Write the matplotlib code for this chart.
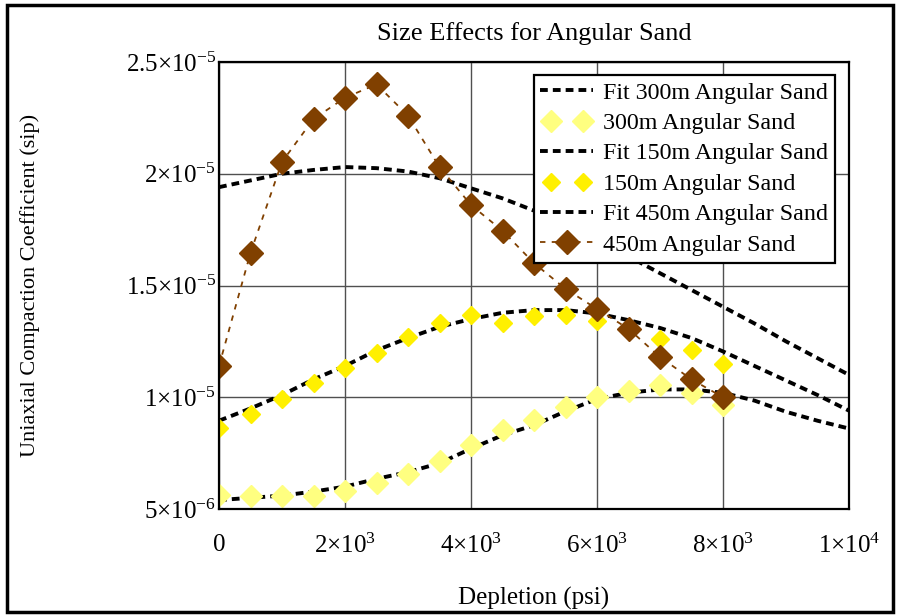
import matplotlib
matplotlib.use("Agg")
import matplotlib.pyplot as plt
from matplotlib.legend_handler import HandlerLine2D
from matplotlib.patches import Rectangle

# -------------------------- fonts (Times-like, Mathcad look) --------------------------
plt.rcParams['font.family'] = 'serif'
plt.rcParams['font.serif'] = ['Liberation Serif', 'DejaVu Serif']
plt.rcParams['mathtext.fontset'] = 'custom'
plt.rcParams['mathtext.rm'] = 'Liberation Serif'
plt.rcParams['mathtext.it'] = 'Liberation Serif:italic'
plt.rcParams['mathtext.default'] = 'rm'

# -------------------------- measured data (depletion in psi) --------------------------
depletion = [0, 500, 1000, 1500, 2000, 2500, 3000, 3500, 4000,
             4500, 5000, 5500, 6000, 6500, 7000, 7500, 8000]

sand_300 = [0.563, 0.558, 0.558, 0.558, 0.580, 0.615, 0.655, 0.716, 0.786,
            0.854, 0.898, 0.958, 1.000, 1.028, 1.055, 1.018, 0.966]
sand_150 = [0.861, 0.924, 0.992, 1.063, 1.130, 1.200, 1.270, 1.330, 1.370,
            1.330, 1.364, 1.368, 1.340, 1.300, 1.261, 1.210, 1.149]
sand_450 = [1.140, 1.646, 2.053, 2.245, 2.340, 2.400, 2.260, 2.030, 1.860,
            1.745, 1.600, 1.485, 1.395, 1.306, 1.180, 1.080, 1.000]

# fitted curves, sampled every 500 psi over the full range
fit_depletion = [0, 500, 1000, 1500, 2000, 2500, 3000, 3500, 4000, 4500, 5000,
                 5500, 6000, 6500, 7000, 7500, 8000, 8500, 9000, 9500, 10000]
fit_300 = [0.540, 0.550, 0.560, 0.578, 0.600, 0.635, 0.665, 0.705, 0.770, 0.830, 0.875,
           0.937, 0.992, 1.020, 1.035, 1.035, 1.020, 0.985, 0.935, 0.895, 0.860]
fit_150 = [0.895, 0.950, 1.010, 1.080, 1.140, 1.210, 1.265, 1.315, 1.350, 1.378, 1.390,
           1.390, 1.375, 1.345, 1.310, 1.265, 1.205, 1.140, 1.075, 1.010, 0.940]
fit_450 = [1.940, 1.970, 2.000, 2.017, 2.030, 2.025, 2.010, 1.980, 1.935, 1.890, 1.835,
           1.770, 1.700, 1.630, 1.555, 1.480, 1.405, 1.330, 1.250, 1.175, 1.100]

scale = 1e-5  # values above are in units of 1e-5 1/psi

xticks = [0, 2000, 4000, 6000, 8000, 10000]
xtick_labels = ['0', r'$2{\times}10^{3}$', r'$4{\times}10^{3}$', r'$6{\times}10^{3}$',
                r'$8{\times}10^{3}$', r'$1{\times}10^{4}$']
yticks = [0.5, 1.0, 1.5, 2.0, 2.5]
ytick_labels = [r'$5{\times}10^{-6}$', r'$1{\times}10^{-5}$', r'$1.5{\times}10^{-5}$',
                r'$2{\times}10^{-5}$', r'$2.5{\times}10^{-5}$']

light_yellow = '#FFFF80'
yellow = '#FFF000'
brown = '#804000'

# -------------------------- figure --------------------------
fig = plt.figure(figsize=(9, 6.16), dpi=100)
ax = fig.add_axes([219 / 900, 107 / 616, 630 / 900, 447 / 616])

fit_style = dict(color='black', lw=2.8, dashes=(2, 1.3), solid_capstyle='butt')

def scaled(vals):
    return [v * scale for v in vals]

l_fit300, = ax.plot(fit_depletion, scaled(fit_300), label='Fit 300m Angular Sand', **fit_style)
l_300, = ax.plot(depletion, scaled(sand_300), ls='none', marker='D', ms=11,
                 mfc=light_yellow, mec=light_yellow, label='300m Angular Sand')
l_fit150, = ax.plot(fit_depletion, scaled(fit_150), label='Fit 150m Angular Sand', **fit_style)
l_150, = ax.plot(depletion, scaled(sand_150), ls='none', marker='D', ms=9,
                 mfc=yellow, mec=yellow, label='150m Angular Sand')
l_fit450, = ax.plot(fit_depletion, scaled(fit_450), label='Fit 450m Angular Sand', **fit_style)
l_450, = ax.plot(depletion, scaled(sand_450), color=brown, lw=1.3, dashes=(3, 3.5),
                 marker='D', ms=12.5, mfc=brown, mec=brown, label='450m Angular Sand')

ax.set_xlim(0, 10000)
ax.set_ylim(0.5 * scale, 2.5 * scale)
ax.set_xticks(xticks)
ax.set_xticklabels(xtick_labels, fontsize=18)
ax.set_yticks(scaled(yticks))
ax.set_yticklabels(ytick_labels, fontsize=18)
ax.tick_params(axis='both', length=0)
ax.tick_params(axis='x', pad=18)
ax.tick_params(axis='y', pad=2)
ax.grid(True, color='#505050', lw=1.0)
ax.set_axisbelow(True)
for sp in ax.spines.values():
    sp.set_linewidth(1.6)

ax.set_xlabel('Depletion (psi)', fontsize=18, va='center')
ax.xaxis.set_label_coords(0.5, (509 - 598) / 447)
ax.set_ylabel('Uniaxial Compaction Coefficient (sip)', fontsize=16, va='center')
ax.yaxis.set_label_coords((30 - 219) / 630, 0.5)

fig.text(534 / 900, 1 - 34 / 616, 'Size Effects for Angular Sand',
         fontsize=19, ha='center', va='center')

marker_pair = dict(numpoints=2, marker_pad=0.45)
leg = ax.legend(loc='upper right', bbox_to_anchor=(0.978, 0.971), borderaxespad=0,
                fontsize=17.3, handlelength=2.2, handletextpad=0.42,
                labelspacing=0.36, borderpad=0.28, fancybox=False, framealpha=1,
                edgecolor='black',
                handler_map={l_300: HandlerLine2D(**marker_pair),
                             l_150: HandlerLine2D(**marker_pair)})
leg.get_frame().set_linewidth(1.6)

# outer frame around the whole figure
fig.patches.append(Rectangle((7 / 900, 4 / 616), 886 / 900, 607 / 616,
                             transform=fig.transFigure, fill=False,
                             edgecolor='black', lw=2.5))

fig.savefig('out.png', dpi=100, facecolor='white')
